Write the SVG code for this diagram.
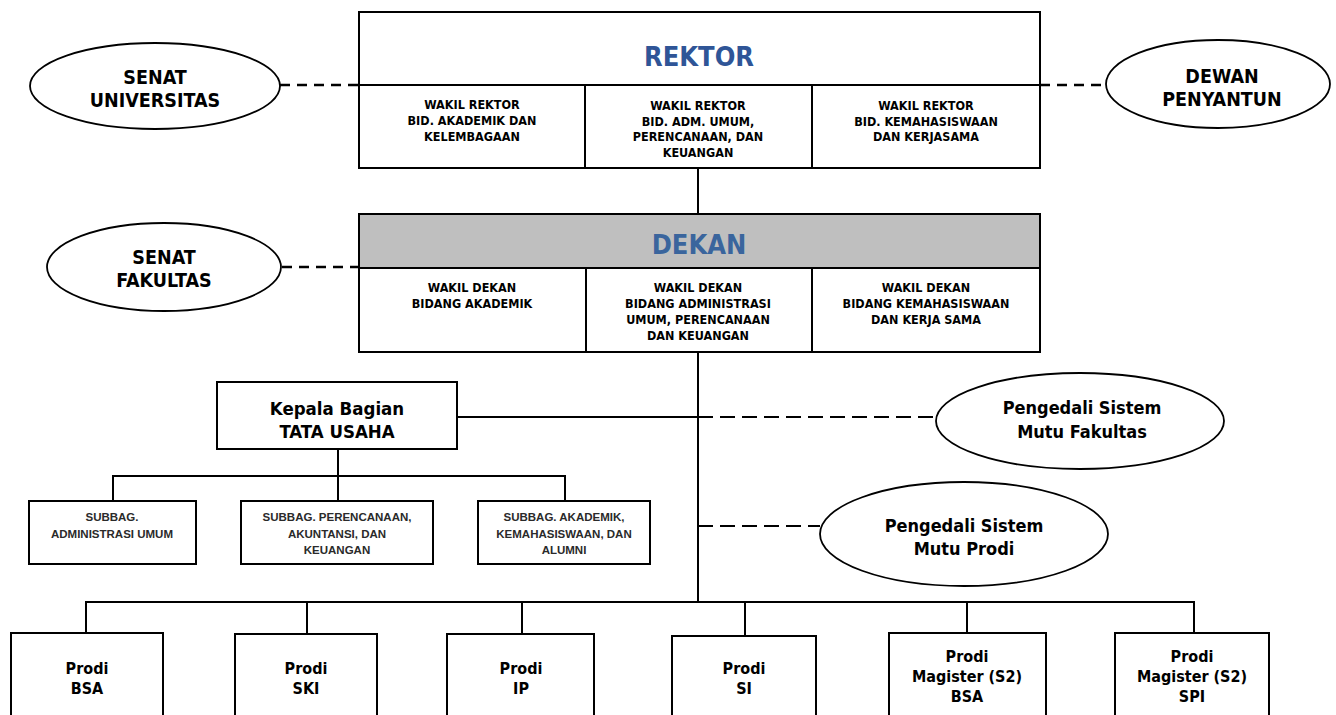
<svg xmlns="http://www.w3.org/2000/svg" width="1336" height="715" viewBox="0 0 1336 715">
<style>
  .box { fill: #ffffff; stroke: #000000; stroke-width: 2; }
  .ell { fill: #ffffff; stroke: #000000; stroke-width: 1.8; }
  .ln { fill: none; stroke: #000000; stroke-width: 2; }
  .dash1 { fill: none; stroke: #000000; stroke-width: 2.4; stroke-dasharray: 10 7; }
  .dash2 { fill: none; stroke: #000000; stroke-width: 2; stroke-dasharray: 15 7; }
  text { font-family: "DejaVu Sans", Verdana, sans-serif; font-weight: bold; font-stretch: condensed; fill: #000000; text-anchor: middle; }
  .title { font-size: 27px; }
  .sub { font-size: 12.5px; }
  .ellt { font-size: 19.5px; }
  .pst { font-size: 18px; }
  .kb { font-size: 18.5px; }
  .prodi { font-size: 16px; }
  .sb { font-family: "Liberation Sans Narrow", "Liberation Sans", Arial, sans-serif; font-size: 11.5px; fill: #2a2a2a; font-stretch: condensed; }
</style>

<g id="connectors">
  <line class="dash1" x1="280" y1="85" x2="359" y2="85"/>
  <line class="dash1" x1="1040" y1="85" x2="1106" y2="85"/>
  <line class="ln" x1="698" y1="168" x2="698" y2="214"/>
  <line class="dash1" x1="282" y1="267" x2="359" y2="267"/>
  <line class="ln" x1="698" y1="352" x2="698" y2="602"/>
  <line class="ln" x1="457" y1="417" x2="698" y2="417"/>
  <line class="dash2" x1="698" y1="417" x2="936" y2="417"/>
  <line class="dash2" x1="698" y1="526" x2="820" y2="526"/>
  <line class="ln" x1="338" y1="449" x2="338" y2="476"/>
  <polyline class="ln" points="113,501 113,476 565,476 565,501"/>
  <line class="ln" x1="338" y1="476" x2="338" y2="501"/>
  <polyline class="ln" points="86,633 86,602 1194,602 1194,633"/>
  <line class="ln" x1="307" y1="602" x2="307" y2="634"/>
  <line class="ln" x1="522" y1="602" x2="522" y2="634"/>
  <line class="ln" x1="745" y1="602" x2="745" y2="636"/>
  <line class="ln" x1="967" y1="602" x2="967" y2="633"/>
</g>

<g id="senat-universitas">
  <ellipse class="ell" cx="155" cy="86" rx="125" ry="43"/>
  <text class="ellt" x="155" y="84">SENAT</text>
  <text class="ellt" x="155" y="107">UNIVERSITAS</text>
</g>

<g id="rektor">
  <rect class="box" x="359" y="12" width="681" height="156"/>
  <line class="ln" x1="359" y1="85" x2="1040" y2="85"/>
  <line class="ln" x1="585" y1="85" x2="585" y2="168"/>
  <line class="ln" x1="812" y1="85" x2="812" y2="168"/>
  <text class="title" x="699" y="66" style="fill:#2F5597">REKTOR</text>
  <text class="sub" x="472" y="109">WAKIL REKTOR</text>
  <text class="sub" x="472" y="125">BID. AKADEMIK DAN</text>
  <text class="sub" x="472" y="141">KELEMBAGAAN</text>
  <text class="sub" x="698" y="110">WAKIL REKTOR</text>
  <text class="sub" x="698" y="126">BID. ADM. UMUM,</text>
  <text class="sub" x="698" y="141">PERENCANAAN, DAN</text>
  <text class="sub" x="698" y="157">KEUANGAN</text>
  <text class="sub" x="926" y="110">WAKIL REKTOR</text>
  <text class="sub" x="926" y="126">BID. KEMAHASISWAAN</text>
  <text class="sub" x="926" y="141">DAN KERJASAMA</text>
</g>

<g id="dewan-penyantun">
  <ellipse class="ell" cx="1218" cy="84" rx="112" ry="44"/>
  <text class="ellt" x="1222" y="83">DEWAN</text>
  <text class="ellt" x="1222" y="106">PENYANTUN</text>
</g>

<g id="senat-fakultas">
  <ellipse class="ell" cx="164" cy="267" rx="117" ry="44"/>
  <text class="ellt" x="164" y="264">SENAT</text>
  <text class="ellt" x="164" y="287">FAKULTAS</text>
</g>

<g id="dekan">
  <rect class="box" x="359" y="214" width="681" height="138"/>
  <rect x="360" y="215" width="679" height="53" fill="#BFBFBF"/>
  <line class="ln" x1="359" y1="268" x2="1040" y2="268"/>
  <line class="ln" x1="586" y1="268" x2="586" y2="352"/>
  <line class="ln" x1="812" y1="268" x2="812" y2="352"/>
  <text class="title" x="699" y="254" style="fill:#3A659D">DEKAN</text>
  <text class="sub" x="472" y="292">WAKIL DEKAN</text>
  <text class="sub" x="472" y="308">BIDANG AKADEMIK</text>
  <text class="sub" x="698" y="292">WAKIL DEKAN</text>
  <text class="sub" x="698" y="308">BIDANG ADMINISTRASI</text>
  <text class="sub" x="698" y="324">UMUM, PERENCANAAN</text>
  <text class="sub" x="698" y="340">DAN KEUANGAN</text>
  <text class="sub" x="926" y="292">WAKIL DEKAN</text>
  <text class="sub" x="926" y="308">BIDANG KEMAHASISWAAN</text>
  <text class="sub" x="926" y="324">DAN KERJA SAMA</text>
</g>

<g id="kepala-bagian">
  <rect class="box" x="217" y="382" width="240" height="67"/>
  <text class="kb" x="337" y="415">Kepala Bagian</text>
  <text class="kb" x="337" y="438">TATA USAHA</text>
</g>

<g id="psm-fakultas">
  <ellipse class="ell" cx="1080" cy="421" rx="144" ry="48"/>
  <text class="pst" x="1082" y="414">Pengedali Sistem</text>
  <text class="pst" x="1082" y="438">Mutu Fakultas</text>
</g>

<g id="psm-prodi">
  <ellipse class="ell" cx="964" cy="534" rx="144" ry="52"/>
  <text class="pst" x="964" y="532">Pengedali Sistem</text>
  <text class="pst" x="964" y="555">Mutu Prodi</text>
</g>

<g id="subbag-adm">
  <rect class="box" x="29" y="501" width="167" height="63"/>
  <text class="sb" x="112" y="521">SUBBAG.</text>
  <text class="sb" x="112" y="538">ADMINISTRASI UMUM</text>
</g>

<g id="subbag-perencanaan">
  <rect class="box" x="241" y="501" width="192" height="63"/>
  <text class="sb" x="337" y="521">SUBBAG. PERENCANAAN,</text>
  <text class="sb" x="337" y="538">AKUNTANSI, DAN</text>
  <text class="sb" x="337" y="554">KEUANGAN</text>
</g>

<g id="subbag-akademik">
  <rect class="box" x="478" y="501" width="172" height="63"/>
  <text class="sb" x="564" y="521">SUBBAG. AKADEMIK,</text>
  <text class="sb" x="564" y="538">KEMAHASISWAAN, DAN</text>
  <text class="sb" x="564" y="554">ALUMNI</text>
</g>

<g id="prodi-bsa">
  <rect class="box" x="11" y="633" width="152" height="100"/>
  <text class="prodi" x="87" y="674">Prodi</text>
  <text class="prodi" x="87" y="694">BSA</text>
</g>

<g id="prodi-ski">
  <rect class="box" x="235" y="634" width="142" height="100"/>
  <text class="prodi" x="306" y="674">Prodi</text>
  <text class="prodi" x="306" y="694">SKI</text>
</g>

<g id="prodi-ip">
  <rect class="box" x="447" y="634" width="147" height="100"/>
  <text class="prodi" x="521" y="674">Prodi</text>
  <text class="prodi" x="521" y="694">IP</text>
</g>

<g id="prodi-si">
  <rect class="box" x="672" y="636" width="144" height="100"/>
  <text class="prodi" x="744" y="674">Prodi</text>
  <text class="prodi" x="744" y="694">SI</text>
</g>

<g id="prodi-magister-bsa">
  <rect class="box" x="889" y="633" width="157" height="100"/>
  <text class="prodi" x="967" y="662">Prodi</text>
  <text class="prodi" x="967" y="682">Magister (S2)</text>
  <text class="prodi" x="967" y="702">BSA</text>
</g>

<g id="prodi-magister-spi">
  <rect class="box" x="1115" y="633" width="154" height="100"/>
  <text class="prodi" x="1192" y="662">Prodi</text>
  <text class="prodi" x="1192" y="682">Magister (S2)</text>
  <text class="prodi" x="1192" y="702">SPI</text>
</g>
</svg>
